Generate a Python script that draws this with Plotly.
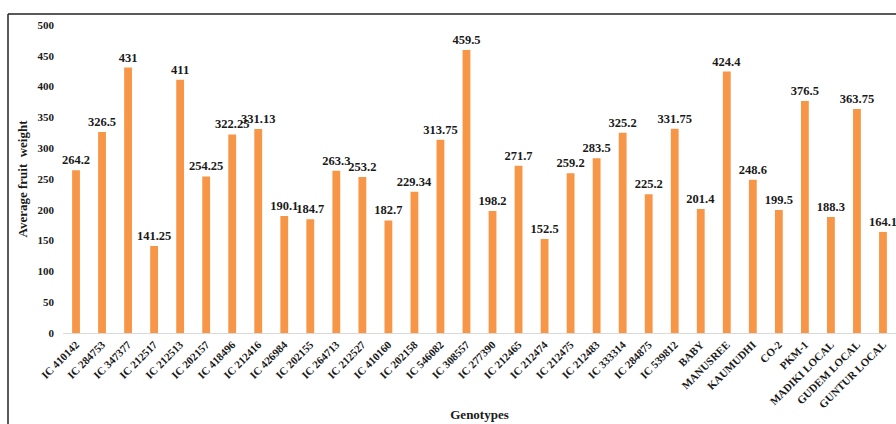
import plotly.graph_objects as go

genotypes = [
    "IC 410142", "IC 284753", "IC 347377", "IC 212517", "IC 212513", "IC 202157",
    "IC 418496", "IC 212416", "IC 426984", "IC 202155", "IC 264713", "IC 212527",
    "IC 410160", "IC 202158", "IC 546082", "IC 308557", "IC 277390", "IC 212465",
    "IC 212474", "IC 212475", "IC 212483", "IC 333314", "IC 284875", "IC 539812",
    "BABY", "MANUSREE", "KAUMUDHI", "CO-2", "PKM-1", "MADIKI LOCAL",
    "GUDEM LOCAL", "GUNTUR LOCAL",
]
fruit_weight = [
    264.2, 326.5, 431, 141.25, 411, 254.25,
    322.25, 331.13, 190.1, 184.7, 263.3, 253.2,
    182.7, 229.34, 313.75, 459.5, 198.2, 271.7,
    152.5, 259.2, 283.5, 325.2, 225.2, 331.75,
    201.4, 424.4, 248.6, 199.5, 376.5, 188.3,
    363.75, 164.1,
]
y_ticks = [0, 50, 100, 150, 200, 250, 300, 350, 400, 450, 500]

FONT = "Liberation Serif"
BAR = "#F79646"
INK = "#1a1a1a"

fig = go.Figure(
    go.Bar(
        x=genotypes,
        y=fruit_weight,
        text=[f"{v:g}" for v in fruit_weight],
        texttemplate="<b>%{text}</b>",
        textposition="outside",
        constraintext="none",
        textfont=dict(family=FONT, size=12.5, color=INK),
        marker=dict(color=BAR, line=dict(width=0)),
        width=0.3,
        cliponaxis=False,
        hoverinfo="x+y",
    )
)

# width / margins chosen so the plot area runs to the right edge
W, H = 896, 424
L, R, T, B = 63, 0, 25, 91
pw, ph = W - L - R, H - T - B

def px_x(px):
    return (px - L) / pw

def px_y(py):
    return (H - B - py) / ph

# outer frame: left and top edges of the chart box
fig.add_shape(type="line", xref="paper", yref="paper",
              x0=px_x(8), x1=px_x(8), y0=px_y(424), y1=px_y(14),
              line=dict(color="#222222", width=1.5))
fig.add_shape(type="line", xref="paper", yref="paper",
              x0=px_x(8), x1=px_x(900), y0=px_y(14), y1=px_y(14),
              line=dict(color="#222222", width=1.5))

fig.update_layout(
    width=W, height=H,
    margin=dict(l=L, r=R, t=T, b=B, pad=0),
    paper_bgcolor="white", plot_bgcolor="white",
    showlegend=False,
    font=dict(family=FONT, color=INK),
    xaxis=dict(
        range=[-0.5, len(genotypes) - 0.5],
        tickangle=-45,
        tickvals=genotypes,
        ticktext=[f"<b>{g}</b>" for g in genotypes],
        tickfont=dict(family=FONT, size=11, color=INK),
        showgrid=False, zeroline=False,
        showline=True, linecolor="#d9d9d9", linewidth=1,
        ticks="",
        title=dict(text="<b>Genotypes</b>", font=dict(family=FONT, size=13), standoff=0),
    ),
    yaxis=dict(
        range=[0, 500],
        tickvals=y_ticks,
        ticktext=[f"<b>{t}</b>" for t in y_ticks],
        tickfont=dict(family=FONT, size=11, color=INK),
        showgrid=False, zeroline=False, showline=False,
        ticks="", ticklabelstandoff=8,
        title=dict(text="<b>Average fruit  weight</b>", font=dict(family=FONT, size=13), standoff=6),
    ),
)

fig.write_html("out.html")
